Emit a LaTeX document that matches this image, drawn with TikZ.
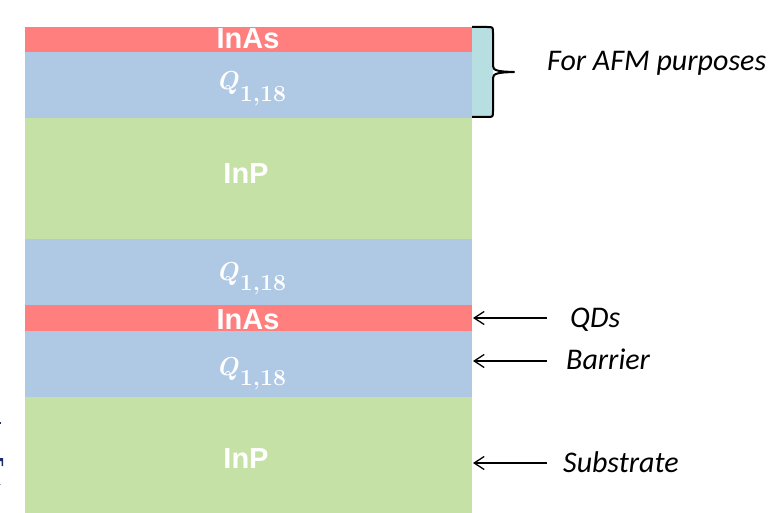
\documentclass[tikz,border=0pt]{standalone}
\usepackage{fontspec}
\newfontfamily\carl{Carlito}
\newfontfamily\lsans{Liberation Sans}
\usetikzlibrary{arrows.meta}
\definecolor{lred}{RGB}{255,127,127}
\definecolor{lblue}{RGB}{175,200,227}
\definecolor{lgreen}{RGB}{198,225,165}
\definecolor{lteal}{RGB}{183,222,224}
\definecolor{navy}{RGB}{25,45,110}
\newcommand{\qlab}[1]{{\bfseries\itshape Q}\kern1.5pt\raisebox{#1}{\upshape\bfseries\fontsize{23}{27}\selectfont 1,18}}
\begin{document}
\begin{tikzpicture}[x=1pt,y=-1pt,
  lbl/.style={anchor=base west, inner sep=0pt, font=\carl\itshape\fontsize{30}{36}\selectfont},
  laytxt/.style={anchor=base, inner sep=0pt, text=white, font=\lsans\bfseries\fontsize{29}{34}\selectfont},
  qtxt/.style={anchor=base west, inner sep=0pt, text=white, font=\rmfamily\fontsize{26}{30}\selectfont},
  pointer/.style={line width=1.3pt, -{Straight Barb[length=10pt,width=13pt,line width=1.3pt]}},
  bracepath/.style={line width=2pt, line join=round}
]
\useasboundingbox (0,0) rectangle (770,513);
% layers
\fill[lred]   (25,27)  rectangle (472,52);
\fill[lblue]  (25,52)  rectangle (472,118);
\fill[lgreen] (25,118) rectangle (472,239);
\fill[lblue]  (25,239) rectangle (472,305);
\fill[lred]   (25,305) rectangle (472,331);
\fill[lblue]  (25,331) rectangle (472,397);
\fill[lgreen] (25,397) rectangle (472,513);
% layer labels
\node[laytxt] (t1) at (248,49)  {InAs};
\node[qtxt]   (t2) at (216,90)  {\qlab{-12pt}};
\node[laytxt] (t3) at (246,183) {InP};
\node[qtxt]   (t4) at (216,280) {\qlab{-10pt}};
\node[laytxt] (t5) at (248,329) {InAs};
\node[qtxt]   (t6) at (216,375) {\qlab{-10pt}};
\node[laytxt] (t7) at (246,468) {InP};
% brace with fill
\fill[lteal] (472,27) -- (487,27) .. controls (493,27) .. (493,33) -- (493,111) .. controls (493,117) .. (487,117) -- (472,117) -- cycle;
\draw[bracepath] (472,27) -- (487,27) .. controls (493,27) .. (493,33) -- (493,66)
  .. controls (493,70.5) and (498,71.6) .. (514,72)
  .. controls (498,72.4) and (493,73.5) .. (493,78) -- (493,111)
  .. controls (493,117) .. (487,117) -- (472,117);
% labels
\node[lbl] (afm) at (547,71) {For AFM purposes};
\node[lbl] (qds) at (570,327) {QDs};
\node[lbl] (bar) at (566,369) {Barrier};
\node[lbl] (sub) at (563,472) {Substrate};
% arrows
\coordinate (qa) at (547,318);  \coordinate (qb) at (473,318);
\coordinate (ba) at (547,361);  \coordinate (bb) at (473,361);
\coordinate (sa) at (547,463);  \coordinate (sb) at (473,463);
\draw[pointer] (qa) -- (qb);
\draw[pointer] (ba) -- (bb);
\draw[pointer] (sa) -- (sb);
% cropped marks at left edge
\fill[navy] (0,422) rectangle (1.2,424);
\fill[navy] (0,458) -- (3,458) -- (3,466) -- (1.5,466) -- (1.5,461) -- (0,461) -- cycle;
\fill[navy!40] (0,484) rectangle (1,485);
\end{tikzpicture}
\end{document}
